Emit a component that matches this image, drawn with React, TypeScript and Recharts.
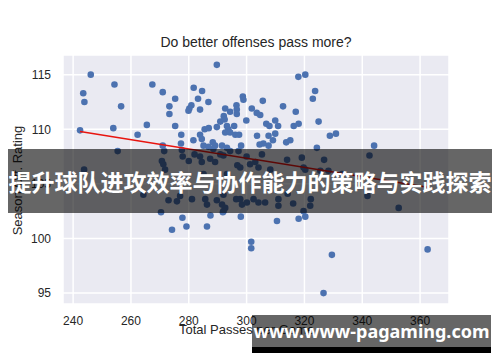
import { CartesianGrid, Scatter, ScatterChart, XAxis, YAxis } from 'recharts';

// team seasons: total passes vs season offensive rating
const totalPasses = [
  246.1, 243.5, 243.9, 254.3, 256.6, 242.4, 253.9, 255.4, 243.8, 265.5,
  262.3, 267.4, 271.0, 264.3, 271.0, 271.5, 270.7, 271.2, 271.8, 273.0,
  270.4, 273.3, 273.3, 274.2, 275.3, 275.3, 277.4, 277.3, 277.9, 277.6,
  280.0, 281.7, 284.6, 283.2, 286.8, 280.9, 280.2, 279.9, 283.9, 281.6,
  283.9, 284.5, 282.0, 283.9, 284.5, 275.9, 277.0, 281.1, 277.8, 279.2,
  285.1, 285.7, 286.3, 289.7, 285.5, 286.9, 288.3, 289.1, 291.5, 289.7,
  290.9, 292.6, 294.3, 292.1, 292.4, 293.2, 293.7, 292.6, 294.3, 295.7,
  296.1, 296.5, 296.6, 296.6, 298.7, 298.9, 299.9, 298.1, 297.4, 285.1,
  286.8, 288.5, 287.4, 289.1, 290.9, 292.0, 293.2, 294.3, 297.2, 300.0,
  297.8, 296.8, 293.2, 289.7, 291.5, 292.0, 292.0, 296.4, 297.8, 298.4,
  300.1, 286.3, 287.5, 291.8, 292.6, 298.0, 301.8, 303.5, 304.7, 305.6,
  312.6, 317.0, 317.9, 320.3, 306.8, 307.9, 309.9, 310.9, 316.3, 318.0,
  303.6, 307.6, 309.9, 309.1, 307.6, 305.8, 304.5, 313.7, 315.1, 305.3,
  301.2, 303.0, 304.1, 308.2, 314.0, 319.1, 319.7, 302.4, 304.1, 306.4,
  311.0, 311.0, 316.1, 314.2, 301.6, 301.6, 310.5, 318.0, 323.7, 322.9,
  324.9, 328.8, 330.9, 344.1, 342.5, 324.3, 325.5, 326.8, 328.3, 333.0,
  320.3, 319.7, 320.3, 322.2, 322.0, 341.8, 352.6, 329.5, 326.6, 362.6,
];

const offRating = [
  115.0, 113.3, 112.5, 114.1, 112.1, 109.9, 110.1, 108.0, 106.3, 110.4,
  109.5, 114.1, 113.4, 104.0, 108.5, 108.0, 107.1, 106.8, 106.3, 103.5,
  102.4, 112.1, 111.4, 100.8, 112.8, 110.3, 109.5, 108.7, 107.5, 108.1,
  107.1, 113.8, 113.5, 112.8, 112.5, 112.2, 111.9, 111.7, 111.8, 109.0,
  109.5, 109.1, 107.7, 107.5, 107.0, 103.4, 103.9, 103.6, 101.9, 101.1,
  105.9, 103.6, 103.1, 115.9, 110.0, 110.1, 108.8, 108.5, 108.5, 110.2,
  110.7, 111.9, 111.6, 111.2, 110.9, 110.3, 110.0, 109.7, 109.7, 110.3,
  109.5, 112.2, 111.8, 111.4, 113.0, 112.7, 110.8, 108.5, 109.5, 108.5,
  108.4, 108.2, 107.3, 107.0, 107.7, 107.6, 108.3, 108.0, 108.0, 107.5,
  106.5, 106.7, 105.9, 103.5, 103.1, 102.5, 104.0, 103.6, 103.6, 103.1,
  103.3, 101.1, 102.1, 102.4, 102.8, 102.0, 111.9, 111.5, 111.3, 112.6,
  112.1, 111.6, 114.8, 115.0, 110.5, 110.3, 110.8, 110.3, 110.3, 110.5,
  109.4, 109.4, 109.6, 109.0, 108.5, 108.7, 108.6, 108.8, 109.0, 107.7,
  106.8, 107.0, 106.5, 106.3, 107.2, 107.4, 106.5, 103.6, 103.3, 103.3,
  103.6, 103.0, 103.2, 104.1, 99.7, 99.1, 101.6, 101.8, 113.5, 112.8,
  110.7, 109.4, 109.6, 108.5, 107.6, 108.3, 106.2, 107.2, 106.2, 105.9,
  106.3, 102.5, 102.0, 103.6, 103.0, 103.9, 102.8, 98.5, 95.0, 99.0,
];

const xTicks = [240, 260, 280, 300, 320, 340, 360];
const yTicks = [95, 100, 105, 110, 115];

// fitted line end points
const trendPasses = [242.4, 362.6];
const trendRating = [109.8, 104.7];

const points = totalPasses.map((x, i) => ({ x, y: offRating[i] }));
const trend = trendPasses.map((x, i) => ({ x, y: trendRating[i] }));

const TEXT = '#262626';
const FONT = '"Liberation Sans", Arial, sans-serif';

export default function App() {
  return (
    <div style={{ position: 'absolute', left: 0, top: 0, width: 500, height: 362, background: '#fff', fontFamily: FONT }}>
      <div style={{ position: 'absolute', left: 0, top: 34, width: 512, textAlign: 'center', fontSize: 14, color: TEXT }}>
        Do better offenses pass more?
      </div>
      <ScatterChart width={500} height={362} margin={{ top: 55, right: 51, bottom: 28, left: 13 }}>
        <CartesianGrid fill="#eaeaf2" fillOpacity={1} stroke="#fff" strokeWidth={1.5} />
        <XAxis
          type="number"
          dataKey="x"
          domain={[236.5, 370]}
          ticks={xTicks}
          height={30}
          axisLine={false}
          tickLine={false}
          tickMargin={6}
          tick={{ fontSize: 12, fill: TEXT, fontFamily: FONT }}
        />
        <YAxis
          type="number"
          dataKey="y"
          domain={[94, 116.8]}
          ticks={yTicks}
          width={50}
          axisLine={false}
          tickLine={false}
          tickMargin={6}
          tick={{ fontSize: 12, fill: TEXT, fontFamily: FONT }}
        />
        <Scatter
          data={points}
          isAnimationActive={false}
          shape={(p: any) => <circle cx={p.cx} cy={p.cy} r={3.3} fill="#4c72b0" />}
        />
        <Scatter
          data={trend}
          isAnimationActive={false}
          line={{ stroke: '#e8140f', strokeWidth: 1.5 }}
          shape={() => <g />}
        />
      </ScatterChart>
      <div
        style={{
          position: 'absolute', left: 0, top: 180, width: 36, height: 0,
          display: 'flex', justifyContent: 'center', alignItems: 'center',
        }}
      >
        <div style={{ transform: 'rotate(-90deg)', whiteSpace: 'nowrap', fontSize: 13, color: TEXT }}>
          Season Off. Rating
        </div>
      </div>
      <div style={{ position: 'absolute', left: 179, top: 322, fontSize: 13, color: TEXT, whiteSpace: 'nowrap' }}>
        Total Passes per Game
      </div>
      <div
        style={{
          position: 'absolute', left: 8, top: 149, width: 484, height: 64,
          background: 'rgba(0,0,0,0.6)', color: '#fff', display: 'flex',
          alignItems: 'center', justifyContent: 'center', whiteSpace: 'nowrap',
          fontFamily: '"Noto Sans CJK SC", sans-serif', fontWeight: 700, fontSize: 23,
        }}
      >
        提升球队进攻效率与协作能力的策略与实践探索
      </div>
      <div
        style={{
          position: 'absolute', left: 252, top: 315, width: 239, height: 32,
          background: 'rgba(0,0,0,0.6)', color: '#fff', display: 'flex',
          alignItems: 'center', justifyContent: 'center', whiteSpace: 'nowrap',
          fontFamily: '"Noto Sans", sans-serif', fontWeight: 700, fontSize: 18,
        }}
      >
        www.www-pagaming.com
      </div>
      <div style={{ position: 'absolute', left: 252, top: 347, width: 239, height: 6, background: '#000' }} />
    </div>
  );
}
